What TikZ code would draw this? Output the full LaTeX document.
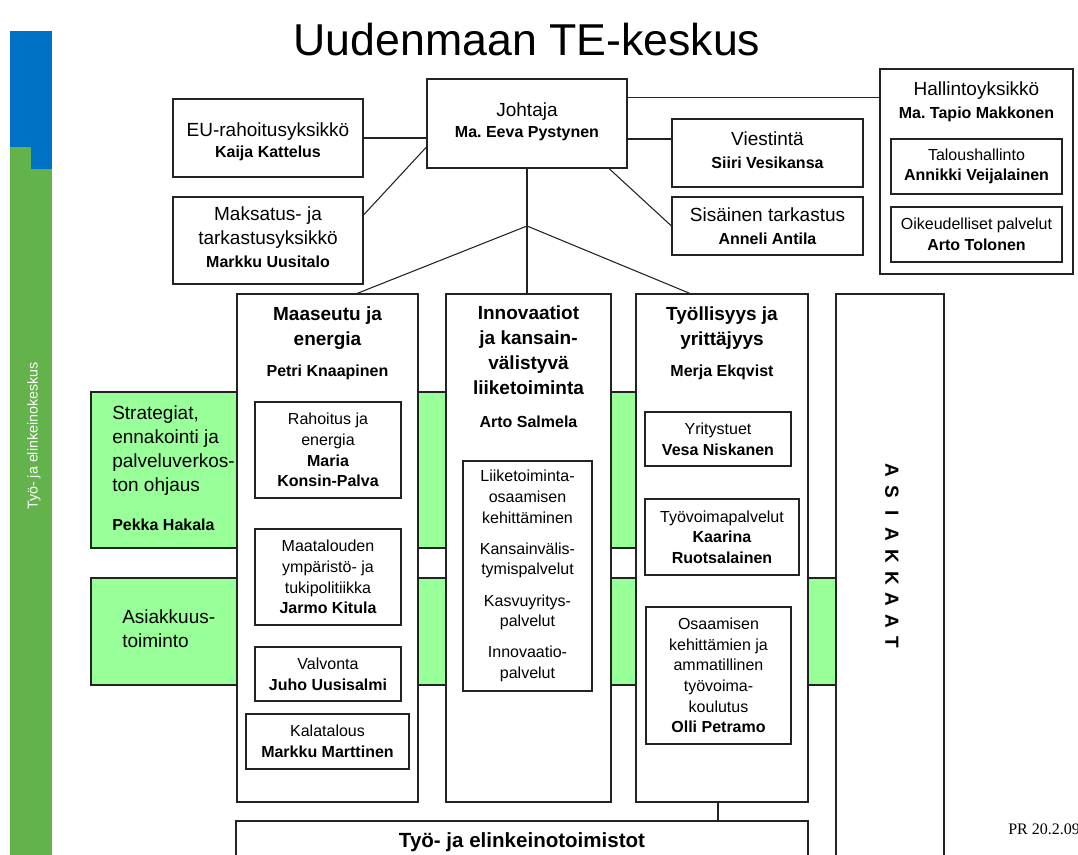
\documentclass[tikz,border=0pt]{standalone}
\usepackage{fontspec}
\setmainfont{Liberation Sans}
\newfontfamily\serifx{Liberation Serif}
\usetikzlibrary{fit,calc}
\frenchspacing
\definecolor{sideblue}{RGB}{0,114,198}
\definecolor{sidegreen}{RGB}{100,178,76}
\definecolor{bandgreen}{RGB}{153,255,153}
\definecolor{linec}{RGB}{35,35,35}
\newcommand\unitf{\fontsize{14.25pt}{17.5pt}\selectfont}
\newcommand\smallf{\fontsize{12pt}{15.5pt}\selectfont}
\newcommand\nmb{\bfseries\fontsize{12pt}{15.5pt}\selectfont}
\newcommand\hdf{\bfseries\fontsize{14.25pt}{18.75pt}\selectfont}
\begin{document}
\begin{tikzpicture}[x=0.75pt,y=-0.75pt,
  box/.style={draw=linec, line width=0.8pt, fill=white, inner sep=0pt},
  band/.style={draw=linec, line width=0.8pt, fill=bandgreen, inner sep=0pt},
  conn/.style={draw=linec, line width=0.8pt},
  bt/.style={align=center, inner sep=0pt},
  hd/.style={align=center, font=\hdf, inner sep=0pt},
  nm/.style={font=\nmb, inner sep=0pt}]
\useasboundingbox (0,0) rectangle (1078,855);
\fill[white] (0,0) rectangle (1078,855);

% side bar
\fill[sidegreen] (10,147) rectangle (52,855);
\fill[sideblue] (10,31) rectangle (52,147);
\fill[sideblue] (31,146) rectangle (52,169);
\node[rotate=90, text=white, font=\fontsize{10.7pt}{12pt}\selectfont, inner sep=0pt] (side) at (34,436) {Työ- ja elinkeinokeskus};

% title
\node[font=\fontsize{33.5pt}{40pt}\selectfont, inner sep=0pt] (title) at (527,40) {Uudenmaan TE-keskus};

% green bands
\node[band, fit={(91,392)(722,548)}] (bandA) {};
\node[band, fit={(91,578)(836,685)}] (bandB) {};
\node[anchor=west, align=left, inner sep=0pt, font=\fontsize{14.25pt}{18pt}\selectfont] (strat) at (112,451) {Strategiat,\\ennakointi ja\\palveluverkos-\\ton ohjaus};
\node[anchor=west, nm] (pekka) at (112,525) {Pekka Hakala};
\node[anchor=west, align=left, inner sep=0pt, font=\fontsize{14.25pt}{18pt}\selectfont] (asiak) at (122,629) {Asiakkuus-\\toiminto};

% columns
\node[box, fit={(237,294)(418,802)}] (colA) {};
\node[box, fit={(446,294)(611,802)}] (colB) {};
\node[box, fit={(636,294)(808,802)}] (colC) {};
\node[box, fit={(836,294)(944,880)}] (asiakkaat) {};
\node[box, fit={(236,821)(808,880)}] (teto) {};
\node[font=\bfseries\fontsize{15.4pt}{18pt}\selectfont, inner sep=0pt] (tetotext) at (522,842) {Työ- ja elinkeinotoimistot};

\foreach \l [count=\i] in {A,S,I,A,K,K,A,A,T}
  \node[rotate=-90, font=\bfseries\fontsize{14.25pt}{16pt}\selectfont, inner sep=0pt] (as\i) at (892,{470+(\i-1)*21.6}) {\l};

% column headers
\node[hd] (hA) at (327.5,328) {Maaseutu ja\\energia};
\node[nm] (nA) at (327.5,372) {Petri Knaapinen};
\node[hd] (hB) at (528.5,350) {Innovaatiot\\ja kansain-\\välistyvä\\liiketoiminta};
\node[nm] (nB) at (528.5,422) {Arto Salmela};
\node[hd] (hC) at (722,328) {Työllisyys ja\\yrittäjyys};
\node[nm] (nC) at (722,372) {Merja Ekqvist};

% inner boxes
\node[box, fit={(255,402)(401,498)}] (rah) {};
\node[bt, font=\smallf] (rah-t) at (rah.center) {Rahoitus ja\\energia\\{\nmb Maria}\\{\nmb Konsin-Palva}};
\node[box, fit={(255,529)(401,625)}] (maat) {};
\node[bt, font=\smallf] (maat-t) at (maat.center) {Maatalouden\\ympäristö- ja\\tukipolitiikka\\{\nmb Jarmo Kitula}};
\node[box, fit={(255,647)(401,701)}] (valv) {};
\node[bt, font=\smallf] (valv-t) at (valv.center) {Valvonta\\{\nmb Juho Uusisalmi}};
\node[box, fit={(246,714)(409,769)}] (kala) {};
\node[bt, font=\smallf] (kala-t) at (kala.center) {Kalatalous\\{\nmb Markku Marttinen}};
\node[box, fit={(463,461)(592,691)}] (liike) {};
\node[bt, font=\smallf] (liike-t) at (liike.center) {Liiketoiminta-\\osaamisen\\kehittäminen\\[7.9pt]Kansainvälis-\\tymispalvelut\\[7.9pt]Kasvuyritys-\\palvelut\\[7.9pt]Innovaatio-\\palvelut};
\node[box, fit={(645,412)(791,466)}] (yrit) {};
\node[bt, font=\smallf] (yrit-t) at (yrit.center) {Yritystuet\\{\nmb Vesa Niskanen}};
\node[box, fit={(645,499)(799,575)}] (tyov) {};
\node[bt, font=\smallf] (tyov-t) at (tyov.center) {Työvoimapalvelut\\{\nmb Kaarina}\\{\nmb Ruotsalainen}};
\node[box, fit={(646,607)(791,744)}] (osaa) {};
\node[bt, font=\smallf] (osaa-t) at (osaa.center) {Osaamisen\\kehittämien ja\\ammatillinen\\työvoima-\\koulutus\\{\nmb Olli Petramo}};

% top units
\node[box, fit={(427,79)(627,168)}] (joht) {};
\node[bt, font=\unitf] (joht-t) at ($(joht.center)+(0,-2)$) {Johtaja\\[-1.5pt]{\nmb Ma. Eeva Pystynen}};
\node[box, fit={(173,99)(363,177)}] (eu) {};
\node[bt, font=\unitf] (eu-t) at ($(eu.center)+(0,4)$) {EU-rahoitusyksikkö\\[-1.5pt]{\nmb Kaija Kattelus}};
\node[box, fit={(173,197)(363,284)}] (maks) {};
\node[bt, font=\unitf] (maks-t) at ($(maks.center)+(0,-3)$) {Maksatus- ja\\tarkastusyksikkö\\{\nmb Markku Uusitalo}};
\node[box, fit={(672,119)(863,187)}] (viest) {};
\node[bt, font=\unitf] (viest-t) at ($(viest.center)+(0,-3)$) {Viestintä\\{\nmb Siiri Vesikansa}};
\node[box, fit={(672,197)(863,255)}] (sis) {};
\node[bt, font=\unitf] (sis-t) at (sis.center) {Sisäinen tarkastus\\{\nmb Anneli Antila}};
\node[box, fit={(880,69)(1073,274)}] (hall) {};
\node[bt, font=\unitf] (hall-t) at (976.5,102) {Hallintoyksikkö\\{\nmb Ma. Tapio Makkonen}};
\node[box, fit={(891,139)(1062,194)}] (talous) {};
\node[bt, font=\smallf] (talous-t) at (talous.center) {Taloushallinto\\{\nmb Annikki Veijalainen}};
\node[box, fit={(891,207)(1062,262)}] (oik) {};
\node[bt, font=\smallf] (oik-t) at (oik.center) {Oikeudelliset palvelut\\{\nmb Arto Tolonen}};

% connectors
\coordinate (br) at (joht.south |- sis.west);
\draw[conn] (eu.east) -- (eu.east -| joht.west);
\draw[conn] ($(maks.east)+(0,-25.5)$) -- ($(joht.west)+(0,23.5)$);
\draw[conn] ($(joht.east)+(0,15.5)$) -- ($(viest.west)+(0,-14)$);
\draw[conn] ($(joht.south)+(82,0)$) -- (sis.west);
\draw[conn] ($(joht.north east)+(0,19)$) -- ($(hall.north west)+(0,29)$);
\draw[conn] (joht.south) -- (joht.south |- colB.north);
\draw[conn] (br) -- ($(colA.north)+(29.5,0)$);
\draw[conn] (br) -- ($(colC.north)+(-32,0)$);
\draw[conn] ($(colC.south)+(-4,0)$) -- ($(teto.north)+(196,0)$);

% footer
\node[anchor=west, font=\serifx\fontsize{12pt}{14pt}\selectfont, inner sep=0pt] (pr) at (1008,829) {PR 20.2.09};
\end{tikzpicture}
\end{document}
